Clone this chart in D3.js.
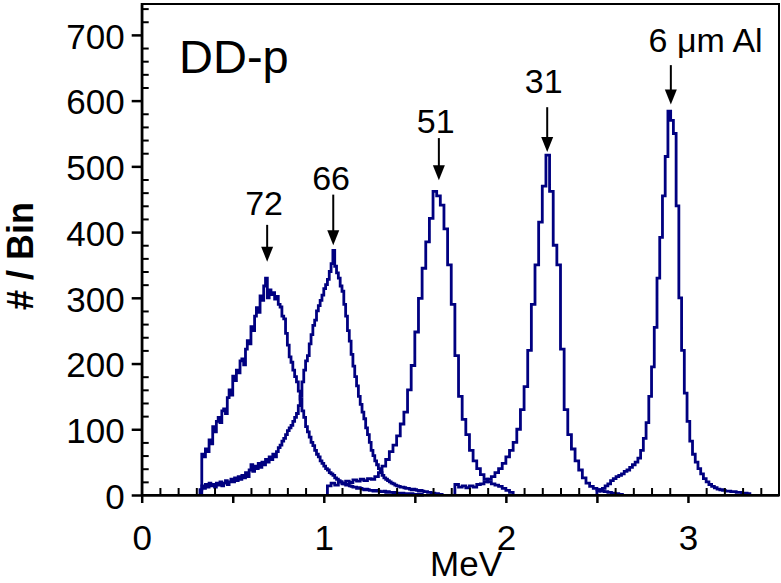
<!DOCTYPE html>
<html>
<head>
<meta charset="utf-8">
<script src="https://cdn.jsdelivr.net/npm/d3@7"></script>
<style>
body { margin: 0; background: #fff; }
text { font-family: "Liberation Sans", Arial, sans-serif; fill: #000; }
</style>
</head>
<body>
<svg id="chart" width="781" height="583"></svg>
<script>
// axis ticks
var xMajor = [0, 0.5, 1, 1.5, 2, 2.5, 3];
var xLabels = ["0", "", "1", "", "2", "", "3"];
var yMajor = [0, 100, 200, 300, 400, 500, 600, 700];

// histograms: first bin edge (MeV), bin width (MeV), counts per bin
var names = ["72", "66", "51", "31", "6 um Al"];
var binStart = [0.33, 0.32, 1.02, 1.72, 2.50];
var binWidth = [0.01, 0.01, 0.02, 0.02, 0.015];

var counts72 = [62, 58, 70, 66, 84, 78, 104, 96, 112, 118, 110, 128, 131, 124, 148, 160, 152, 181, 174, 190,
    186, 204, 207, 198, 222, 235, 230, 256, 250, 272, 285, 278, 303, 296, 318, 330, 300, 312, 305, 308,
    298, 302, 290, 286, 272, 268, 246, 228, 210, 202, 190, 180, 172, 158, 146, 128, 118, 104, 96, 88,
    80, 75, 68, 62, 58, 52, 48, 44, 40, 38, 34, 32, 30, 26, 24, 22, 20, 18, 17, 15,
    16, 14, 13, 12, 12, 10, 11, 10, 9, 8, 9, 8, 7, 7, 6, 7, 6, 6, 5, 5,
    6, 4, 5, 4, 4, 3, 4, 3, 3, 2, 3, 2, 2, 2, 1, 2, 1, 1, 1, 0, 1, 0];

var counts66 = [8, 14, 10, 16, 12, 18, 14, 16, 12, 18, 15, 20, 14, 18, 22, 16, 20, 24, 20, 26,
    22, 28, 24, 30, 26, 34, 28, 38, 46, 36, 44, 40, 48, 42, 50, 46, 54, 50, 58, 54,
    62, 58, 66, 72, 76, 82, 86, 92, 98, 102, 106, 112, 118, 124, 136, 150, 172, 190, 204, 212,
    230, 244, 258, 266, 280, 288, 296, 304, 314, 320, 328, 340, 352, 372, 348, 338, 330, 318, 310, 290,
    272, 250, 234, 214, 196, 180, 166, 150, 138, 126, 116, 102, 92, 80, 68, 60, 52, 46, 40, 34,
    30, 26, 24, 22, 20, 18, 17, 15, 14, 13, 12, 12, 11, 10, 10, 9, 8, 9, 8, 7,
    6, 7, 6, 5, 5, 4, 4, 3, 3, 2, 2, 1, 1];

var counts51 = [14, 18, 15, 20, 17, 21, 19, 23, 21, 24, 22, 25, 24, 28, 34, 44, 54, 66, 76, 90,
    108, 126, 160, 197, 248, 299, 345, 385, 421, 462, 455, 441, 405, 350, 290, 212, 150, 115, 92, 68,
    52, 40, 31, 24, 20, 17, 15, 13, 10, 7, 4];

var counts31 = [16, 12, 14, 11, 14, 12, 16, 17, 20, 24, 28, 34, 40, 48, 58, 68, 80, 100, 130, 165,
    220, 290, 350, 415, 470, 517, 462, 380, 350, 222, 130, 92, 70, 52, 38, 26, 18, 13, 10, 8,
    6, 5, 4, 3, 2, 1];

var countsAl = [6, 8, 10, 14, 17, 22, 25, 28, 30, 32, 36, 38, 42, 46, 50, 56, 68, 86, 110, 150,
    195, 255, 330, 392, 455, 515, 584, 570, 550, 440, 300, 220, 155, 112, 82, 62, 50, 40, 32, 25,
    20, 16, 13, 11, 9, 8, 7, 6, 6, 5, 5, 4, 4, 3, 3, 2];

var allCounts = [counts72, counts66, counts51, counts31, countsAl];

// peak annotations (MeV for arrow x, counts for arrow ends and text baseline)
var annoText = ["72", "66", "51", "31", "6 \u03bcm Al"];
var annoX = [0.689, 1.052, 1.632, 2.227, 2.906];
var annoTextX = [0.672, 1.04, 1.615, 2.208, 3.097];
var annoTail = [411, 457, 543, 590, 654];
var annoTip = [355, 380, 479, 522, 594];
var annoBase = [426, 464, 551, 612, 674];

var dimensions = {
    margins: { top: 4, right: 2, bottom: 88, left: 141.7 },
    container: { width: 781, height: 583 }
};
var width = dimensions.container.width - dimensions.margins.left - dimensions.margins.right;
var height = dimensions.container.height - dimensions.margins.top - dimensions.margins.bottom;

var svg = d3.select("#chart");
var g = svg.append("g")
    .attr("transform", `translate(${dimensions.margins.left},${dimensions.margins.top})`);

var xScale = d3.scaleLinear().domain([0, 3.5]).range([0, width]);
var yScale = d3.scaleLinear().domain([0, 747]).range([height, 0]);

// histograms as step lines
var line = d3.line()
    .x(d => xScale(d[0]))
    .y(d => yScale(d[1]))
    .curve(d3.curveStepAfter);

allCounts.forEach((c, s) => {
    var pts = [[binStart[s], 0]];
    c.forEach((v, i) => pts.push([binStart[s] + i * binWidth[s], v]));
    pts.push([binStart[s] + c.length * binWidth[s], 0]);
    g.append("path")
        .datum(pts)
        .attr("class", "hist")
        .attr("fill", "none")
        .attr("stroke", "#000080")
        .attr("stroke-width", 2.8)
        .attr("stroke-linejoin", "miter")
        .attr("d", line);
});

// frame
g.append("rect")
    .attr("x", 0).attr("y", 0)
    .attr("width", width).attr("height", height)
    .attr("fill", "none")
    .attr("stroke", "#000")
    .attr("stroke-width", 2);

// minor ticks, pointing inside
var xMinor = d3.range(1, 35).map(i => i / 10).filter(v => Math.abs(v * 2 - Math.round(v * 2)) > 1e-6);
var yMinor = d3.range(20, 747, 20).filter(v => v % 100 !== 0);

g.append("g")
    .attr("transform", `translate(0,${height})`)
    .call(d3.axisBottom(xScale).tickValues(xMinor).tickSize(-7).tickFormat(""))
    .call(a => a.select(".domain").remove())
    .selectAll("line").attr("stroke-width", 2);

g.append("g")
    .call(d3.axisLeft(yScale).tickValues(yMinor).tickSize(-7).tickFormat(""))
    .call(a => a.select(".domain").remove())
    .selectAll("line").attr("stroke-width", 2);

// major axes
var xAxis = g.append("g")
    .attr("transform", `translate(0,${height})`)
    .call(d3.axisBottom(xScale).tickValues(xMajor).tickSize(8).tickSizeOuter(0).tickPadding(22)
        .tickFormat((d, i) => xLabels[i]));
xAxis.select(".domain").attr("stroke-width", 2.5);
xAxis.selectAll("line").attr("stroke-width", 2.5);
xAxis.selectAll("text").attr("font-size", 35).attr("font-family", "Liberation Sans, Arial, sans-serif");

var yAxis = g.append("g")
    .call(d3.axisLeft(yScale).tickValues(yMajor).tickSize(10).tickSizeOuter(0).tickPadding(7));
yAxis.select(".domain").attr("stroke-width", 2.5);
yAxis.selectAll("line").attr("stroke-width", 2.5);
yAxis.selectAll("text").attr("font-size", 35).attr("dy", "0.38em")
    .attr("font-family", "Liberation Sans, Arial, sans-serif");

// axis titles
svg.append("text")
    .attr("x", 466)
    .attr("y", 576)
    .attr("text-anchor", "middle")
    .attr("font-size", 35)
    .text("MeV");

svg.append("text")
    .attr("transform", "translate(33,256) rotate(-90)")
    .attr("text-anchor", "middle")
    .attr("font-size", 36)
    .attr("font-weight", "bold")
    .text("# / Bin");

svg.append("text")
    .attr("x", 179)
    .attr("y", 73)
    .attr("font-size", 47)
    .text("DD-p");

// annotations
annoText.forEach((t, i) => {
    var ax = xScale(annoX[i]);
    var tip = yScale(annoTip[i]);
    g.append("line")
        .attr("x1", ax).attr("x2", ax)
        .attr("y1", yScale(annoTail[i])).attr("y2", tip - 8)
        .attr("stroke", "#000")
        .attr("stroke-width", 2);
    g.append("path")
        .attr("d", `M${ax},${tip}L${ax - 6},${tip - 15}L${ax + 6},${tip - 15}Z`)
        .attr("fill", "#000");
    g.append("text")
        .attr("x", xScale(annoTextX[i]))
        .attr("y", yScale(annoBase[i]))
        .attr("text-anchor", "middle")
        .attr("font-size", 34)
        .text(t);
});
</script>
</body>
</html>
